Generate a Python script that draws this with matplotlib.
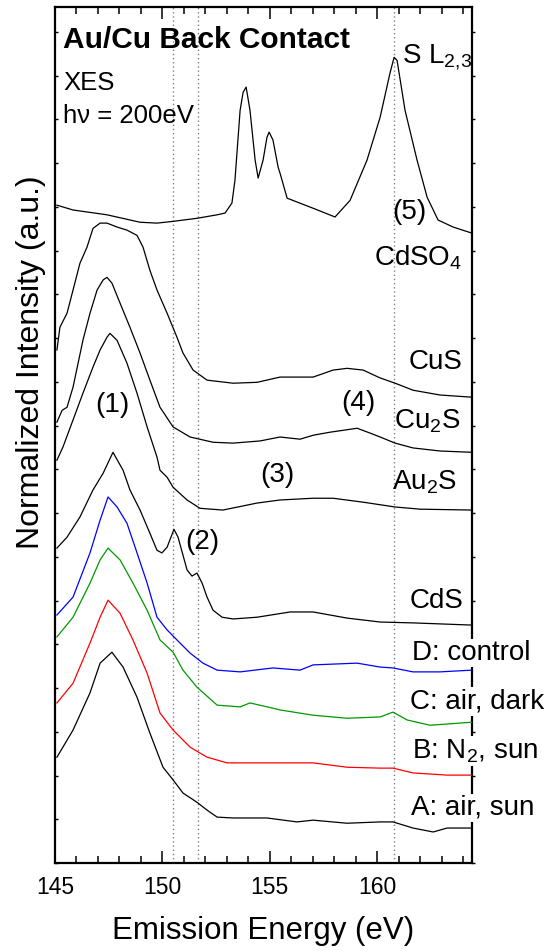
import matplotlib
matplotlib.use('Agg')
import matplotlib.pyplot as plt
from matplotlib.ticker import MultipleLocator

plt.rcParams['font.family'] = ['Liberation Sans', 'DejaVu Sans']
plt.rcParams['mathtext.fontset'] = 'custom'
plt.rcParams['mathtext.rm'] = 'Liberation Sans'
plt.rcParams['mathtext.default'] = 'regular'

# spectra: emission energy (eV) and offset intensity (a.u.)
cdso4E = [145.09, 145.84, 147.42, 148.96, 149.75, 150.50, 151.61, 152.55, 152.92, 153.24,
          153.38, 153.62, 153.76, 153.90, 154.08, 154.32, 154.46, 154.69, 154.87, 154.97,
          155.15, 155.39, 155.48, 155.81, 157.02, 158.04, 158.74, 159.53, 160.14, 160.60,
          160.79, 160.93, 161.30, 161.86, 162.33, 162.84, 163.54, 164.42]
cdso4I = [15.04, 14.93, 14.82, 14.65, 14.63, 14.67, 14.74, 14.82, 14.86, 15.09,
          15.61, 17.21, 17.62, 17.74, 17.21, 16.07, 15.66, 16.07, 16.59, 16.71,
          16.53, 15.91, 15.77, 15.20, 14.97, 14.77, 15.15, 16.07, 17.05, 18.06,
          18.42, 18.35, 17.21, 16.07, 15.22, 14.70, 14.54, 14.40]

cusE = [145.09, 145.23, 145.56, 145.84, 146.16, 146.49, 146.77, 147.10, 147.42, 147.89,
        148.35, 148.82, 149.10, 149.42, 149.75, 150.22, 150.68, 150.96, 151.43, 152.08,
        153.29, 154.41, 155.48, 157.02, 157.95, 158.60, 159.35, 160.14, 160.84, 161.67,
        162.93, 164.42]
cusI = [11.73, 12.25, 12.57, 13.10, 13.71, 14.08, 14.51, 14.63, 14.63, 14.54,
        14.47, 14.35, 14.08, 13.55, 13.10, 12.57, 12.02, 11.66, 11.27, 11.04,
        10.97, 10.99, 11.11, 11.11, 11.27, 11.31, 11.27, 11.09, 10.97, 10.81,
        10.70, 10.65]

cu2sE = [145.09, 145.33, 145.56, 145.84, 146.30, 146.63, 146.96, 147.24, 147.42, 147.65,
         148.03, 148.49, 148.96, 149.42, 149.89, 150.50, 151.29, 152.36, 153.29, 154.55,
         155.48, 156.41, 157.02, 157.81, 159.07, 159.67, 160.14, 160.84, 161.67, 162.93,
         164.42]
cu2sI = [10.08, 10.35, 10.42, 10.88, 11.95, 12.57, 13.10, 13.33, 13.39, 13.26,
         12.80, 12.25, 11.66, 11.04, 10.42, 9.97, 9.74, 9.62, 9.60, 9.65,
         9.74, 9.69, 9.78, 9.85, 9.94, 9.83, 9.74, 9.60, 9.49, 9.42,
         9.39]

au2sE = [145.09, 145.37, 145.84, 146.30, 146.77, 147.10, 147.42, 147.56, 147.89, 148.35,
         148.82, 149.29, 149.75, 149.89, 150.22, 150.50, 151.15, 151.75, 152.82, 154.41,
         155.48, 157.02, 157.95, 159.35, 160.84, 162.00, 164.42]
au2sI = [9.21, 9.51, 10.13, 10.74, 11.34, 11.73, 12.02, 12.11, 11.95, 11.43,
         10.74, 9.97, 9.28, 8.98, 8.82, 8.59, 8.30, 8.11, 8.07, 8.23,
         8.30, 8.34, 8.34, 8.25, 8.14, 8.09, 8.07]

cdsE = [145.09, 145.56, 146.16, 146.77, 147.24, 147.70, 148.17, 148.49, 148.96, 149.42,
        149.75, 149.98, 150.22, 150.54, 150.73, 151.15, 151.38, 151.61, 151.85, 152.08,
        152.36, 152.78, 153.29, 154.41, 155.95, 157.02, 158.60, 160.14, 161.67, 164.42]
cdsI = [7.20, 7.45, 7.91, 8.53, 8.91, 9.39, 8.98, 8.53, 8.07, 7.54,
        7.15, 7.09, 7.22, 7.63, 7.45, 6.70, 6.56, 6.63, 6.40, 6.08,
        5.78, 5.62, 5.58, 5.62, 5.74, 5.74, 5.60, 5.51, 5.49, 5.44]

controlE = [145.09, 145.84, 146.63, 147.10, 147.47, 147.89, 148.35, 148.82, 149.29, 149.75,
            150.22, 150.68, 151.29, 151.89, 152.55, 153.62, 155.15, 156.41, 157.02, 159.07,
            160.14, 160.74, 161.67, 162.93, 164.42]
controlI = [5.67, 6.08, 7.09, 7.84, 8.37, 8.14, 7.77, 7.09, 6.40, 5.62,
            5.33, 5.10, 4.80, 4.57, 4.41, 4.37, 4.46, 4.41, 4.53, 4.57,
            4.48, 4.46, 4.37, 4.37, 4.41]

airDarkE = [145.09, 145.84, 146.63, 147.10, 147.47, 148.03, 148.63, 149.29, 149.89, 150.50,
            150.96, 151.61, 152.55, 153.62, 154.08, 155.15, 155.48, 157.02, 158.60, 160.14,
            160.74, 161.40, 162.47, 164.42]
airDarkI = [5.17, 5.62, 6.40, 6.93, 7.20, 6.93, 6.40, 5.78, 5.10, 4.82,
            4.41, 4.02, 3.61, 3.57, 3.66, 3.54, 3.50, 3.38, 3.31, 3.34,
            3.45, 3.27, 3.15, 3.22]

n2SunE = [145.09, 145.84, 146.63, 147.10, 147.47, 148.03, 148.63, 149.29, 149.89, 150.50,
          151.29, 152.08, 153.01, 154.41, 155.62, 157.02, 158.60, 160.14, 160.74, 161.67,
          163.26, 164.42]
n2SunI = [3.66, 4.11, 5.03, 5.62, 6.01, 5.71, 5.10, 4.34, 3.43, 3.04,
          2.65, 2.42, 2.29, 2.29, 2.29, 2.29, 2.19, 2.17, 2.17, 2.06,
          2.01, 2.01]

airSunE = [145.09, 145.84, 146.63, 147.10, 147.65, 148.17, 148.82, 149.42, 150.03, 150.50,
           150.96, 151.61, 152.08, 152.55, 153.29, 154.87, 156.27, 157.02, 158.60, 160.14,
           160.74, 161.67, 162.61, 163.26, 164.42]
airSunI = [2.42, 3.04, 3.89, 4.57, 4.82, 4.48, 3.79, 2.97, 2.19, 1.90,
           1.60, 1.39, 1.21, 1.05, 1.03, 1.03, 0.94, 0.98, 0.91, 0.94,
           0.94, 0.80, 0.71, 0.80, 0.80]

# vertical guide lines (eV)
guideLines = [150.5, 151.65, 160.8]

spectra = [(cdso4E, cdso4I, 'black'), (cusE, cusI, 'black'), (cu2sE, cu2sI, 'black'),
           (au2sE, au2sI, 'black'), (cdsE, cdsI, 'black'), (controlE, controlI, 'blue'),
           (airDarkE, airDarkI, '#009900'), (n2SunE, n2SunI, 'red'), (airSunE, airSunI, 'black')]

fig = plt.figure(figsize=(5.55, 9.51), dpi=100)
ax = fig.add_axes([0.0991, 0.0925, 0.7514, 0.9001])

for x in guideLines:
  ax.axvline(x, color='gray', ls=(0, (1, 2)), lw=1.0, zorder=1)

for e, i, c in spectra:
  ax.plot(e, i, color=c, lw=0.9, zorder=2)

ax.set_xlim(145, 164.42)
ax.set_ylim(0, 19.57)
ax.xaxis.set_major_locator(MultipleLocator(5))
ax.xaxis.set_minor_locator(MultipleLocator(1))
ax.yaxis.set_major_locator(MultipleLocator(1))
ax.tick_params(axis='x', which='both', direction='in', top=True, bottom=True, width=1.1,
               labelsize=16.5, pad=9)
ax.tick_params(axis='x', which='major', length=8.5)
ax.tick_params(axis='x', which='minor', length=5)
ax.tick_params(axis='y', direction='in', left=True, right=False, length=2.5, width=1,
               labelleft=False)
for s in ['left', 'bottom', 'top']:
  ax.spines[s].set_linewidth(1.6)
ax.spines['right'].set_visible(False)

right = ax.secondary_yaxis('right')
right.yaxis.set_major_locator(MultipleLocator(1))
right.tick_params(direction='out', length=2.5, width=1, labelright=False)
right.spines['right'].set_linewidth(1.6)

ax.set_xlabel('Emission Energy (eV)', fontsize=22.5, va='center')
ax.xaxis.set_label_coords(0.5, -0.0794)
ax.set_ylabel('Normalized Intensity (a.u.)', fontsize=23, va='center')
ax.yaxis.set_label_coords(-0.057, 0.585)

ax.text(145.37, 18.63, 'Au/Cu Back Contact', fontsize=21.5, fontweight='bold')
ax.text(145.37, 17.67, 'XES', fontsize=18.5)
ax.text(145.37, 16.91, 'h\u03bd = 200eV', fontsize=18.5)
ax.text(161.16, 18.29, 'S L$_{2{,}3}$', fontsize=20)

lab = dict(fontsize=20)
ax.text(161.49, 14.88, '(5)', ha='center', va='center', **lab)
ax.text(147.65, 10.47, '(1)', ha='center', va='center', **lab)
ax.text(151.85, 7.34, '(2)', ha='center', va='center', **lab)
ax.text(155.34, 8.87, '(3)', ha='center', va='center', **lab)
ax.text(159.11, 10.51, '(4)', ha='center', va='center', **lab)

ax.text(163.96, 13.67, 'CdSO$_4$', ha='right', **lab)
ax.text(163.96, 11.29, 'CuS', ha='right', **lab)
ax.text(163.86, 9.94, 'Cu$_2$S', ha='right', **lab)
ax.text(163.72, 8.53, 'Au$_2$S', ha='right', **lab)
ax.text(164.0, 5.83, 'CdS', ha='right', **lab)

box = dict(facecolor='white', edgecolor='none', pad=1)
ax.text(161.63, 4.64, 'D: control', bbox=box, zorder=5, **lab)
ax.text(161.53, 3.54, 'C: air, dark', bbox=box, zorder=5, **lab)
ax.text(161.63, 2.40, 'B: N$_2$, sun', bbox=box, zorder=5, **lab)
ax.text(161.58, 1.10, 'A: air, sun', bbox=box, zorder=5, **lab)

fig.savefig('out.png', dpi=100)
